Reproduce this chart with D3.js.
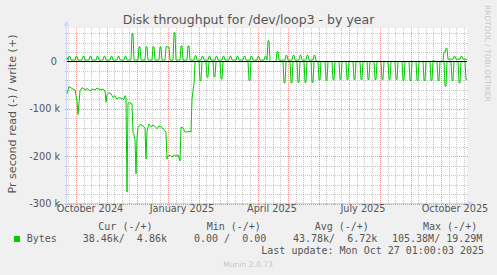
<!DOCTYPE html>
<html lang="en">
<head>
<meta charset="utf-8">
<title>Disk throughput for /dev/loop3 - by year</title>
<script src="https://d3js.org/d3.v7.min.js"></script>
<style>
  body { margin: 0; background: #f0f0f0; }
  svg text { font-family: "DejaVu Sans", sans-serif; fill: #555; }
  .mono { font-family: "DejaVu Sans Mono", monospace !important; font-size: 10px; white-space: pre; }
  .grid-minor { stroke: rgba(143,143,143,0.5); stroke-dasharray: 1,1; shape-rendering: crispEdges; }
  .grid-major { stroke: rgba(233,0,0,0.4); stroke-dasharray: 1,1; shape-rendering: crispEdges; }
</style>
</head>
<body>
<svg width="497" height="275"></svg>
<script>
  // --- data (k bytes / s, day = days since the graph start) ---
  var endTime = new Date(2025, 9, 27, 1, 0, 3);
  var spanDays = 400;

  // read (-): slowly varying part, then zero
  var readProfile = [
    [0,-68],[2,-53],[5,-57],[8,-60],[10,-84],[11,-112],[13,-62],[15,-55],[18,-60],[20,-57],
    [23,-62],[26,-58],[28,-60],[30,-56],[33,-60],[36,-58],[38,-62],[39,-86],[40,-70],[42,-66],
    [44,-68],[46,-76],[48,-72],[50,-80],[52,-76],[55,-78],[57,-80],[58,-72],[59,-76],[60,-276],
    [61,-88],[63,-86],[64,-90],[65,-89],[66,-150],[67,-155],[68,-165],[69,-237],[70,-160],[71,-140],
    [73,-133],[76,-136],[78,-140],[79,-206],[80,-148],[82,-132],[84,-138],[86,-134],[88,-137],[90,-142],
    [92,-136],[94,-138],[96,-142],[98,-146],[99,-150],[100,-206],[101,-200],[103,-198],[105,-202],[107,-197],
    [109,-200],[111,-197],[113,-210],[114,-139],[116,-140],[118,-149],[123,-148],[124,-149],[125,-80],[126,-62],
    [127,-48],[128,0],[400,0]
  ];
  // read (-): weekly dips (two days each)
  var readDips = [
    [133,-40],[140,-33],[147,-32],[154,-37],[182,-40],[217,-45],[224,-45],[231,-44],[238,-44],[245,-44],
    [252,-39],[259,-40],[266,-38],[273,-38],[280,-38],[287,-38],[294,-38],[301,-38],[308,-38],[315,-38],
    [322,-38],[329,-38],[336,-40],[343,-40],[350,-40],[357,-40],[364,-40],[371,-40],[378,-52],[385,-40],
    [392,-45],[399,-38]
  ];

  // write (+): baseline, then weekly bumps and spikes (two days each)
  var writeProfile = [
    [0,9],[1,3],[200,3],[202,0],[209,0],[212,3],[248,3],[250,0],[375,0],[382,5],[400,5]
  ];
  var writeSpikes = [
    [2,11],[9,11],[16,11],[23,11],[30,11],[37,11],[44,11],[51,11],[58,11],[65,59],
    [72,31],[79,31],[86,31],[93,31],[99,31],[101,31],[107,61],[114,33],[121,33],[128,12],
    [135,11],[142,11],[149,11],[156,11],[163,11],[170,11],[177,11],[184,11],[191,11],[198,11],
    [201,44],[210,21],[219,13],[226,13],[233,13],[240,13],[247,13],[366,2],[377,20],[379,28],
    [387,11],[394,11]
  ];

  var yTicks = [-300000, -200000, -100000, 0];
  var yTickLabels = ["-300 k", "-200 k", "-100 k", "0 "];

  var legendHeads = ["Cur (-/+)", "Min (-/+)", "Avg (-/+)", "Max (-/+)"];
  var legendVals = ["38.46k/  4.86k", "0.00 /  0.00", "43.78k/  6.72k", "105.38M/ 19.29M"];
  var lastUpdate = "Last update: Mon Oct 27 01:00:03 2025";

  // --- setup ---
  var svg = d3.select("svg");
  var plotLeft = 67, plotRight = 467, plotTop = 28.4, plotBottom = 203.5;
  var startTime = new Date(+endTime - spanDays * 864e5);

  var x = d3.scaleTime().domain([startTime, endTime]).range([plotLeft, plotRight]);
  var y = d3.scaleLinear().domain([-300000, 70000]).range([plotBottom, plotTop]);

  function dayDate(d) { return new Date(+startTime + d * 864e5); }

  function valueAt(profile, d) {
    for (var i = 1; i < profile.length; i++) {
      if (d <= profile[i][0]) {
        var a = profile[i - 1], b = profile[i];
        return a[1] + (b[1] - a[1]) * (d - a[0]) / (b[0] - a[0]);
      }
    }
    return profile[profile.length - 1][1];
  }

  function series(profile, spikes) {
    var vals = [];
    for (var d = 0; d <= spanDays; d++) vals.push(valueAt(profile, d));
    spikes.forEach(function (s) {
      vals[s[0]] = s[1];
      if (s[0] + 1 <= spanDays) vals[s[0] + 1] = s[1];
    });
    return vals.map(function (v, d) { return { day: d, v: v * 1000 }; });
  }

  // canvas
  svg.append("rect").attr("width", 497).attr("height", 275).attr("fill", "#f0f0f0");
  svg.append("rect").attr("x", plotLeft).attr("y", 28).attr("width", plotRight - plotLeft).attr("height", 176).attr("fill", "#fff");

  // grid: horizontal
  var hMinor = d3.range(-280000, 70000, 20000).filter(function (v) { return v % 100000 !== 0; });
  svg.append("g").selectAll("line").data(hMinor).enter().append("line")
    .attr("class", "grid-minor")
    .attr("x1", plotLeft - 2).attr("x2", plotRight + 2)
    .attr("y1", function (d) { return Math.round(y(d)) + 0.5; })
    .attr("y2", function (d) { return Math.round(y(d)) + 0.5; });
  svg.append("g").selectAll("line").data(yTicks.slice(0, 3)).enter().append("line")
    .attr("class", "grid-major")
    .attr("x1", plotLeft - 2).attr("x2", plotRight + 2)
    .attr("y1", function (d) { return Math.round(y(d)) + 0.5; })
    .attr("y2", function (d) { return Math.round(y(d)) + 0.5; });

  // grid: vertical (months red, quarter months grey)
  var months = d3.timeMonth.range(d3.timeMonth.floor(startTime), endTime);
  var quarterMarks = [];
  months.forEach(function (m) {
    var next = d3.timeMonth.offset(m, 1);
    for (var k = 1; k < 4; k++) {
      var t = new Date(+m + k * (next - m) / 4);
      if (t > startTime && t < endTime) quarterMarks.push(t);
    }
  });
  var monthMarks = months.filter(function (m) { return m > startTime; });

  svg.append("g").selectAll("line").data(quarterMarks).enter().append("line")
    .attr("class", "grid-minor")
    .attr("y1", 28).attr("y2", plotBottom + 2)
    .attr("x1", function (d) { return Math.round(x(d)) + 0.5; })
    .attr("x2", function (d) { return Math.round(x(d)) + 0.5; });
  svg.append("g").selectAll("line").data(monthMarks).enter().append("line")
    .attr("class", "grid-major")
    .attr("y1", 28).attr("y2", plotBottom + 2)
    .attr("x1", function (d) { return Math.round(x(d)) + 0.5; })
    .attr("x2", function (d) { return Math.round(x(d)) + 0.5; });

  // axes lines + arrows
  var axisCol = "#cfd6f8";
  svg.append("line").attr("x1", plotLeft - 3).attr("x2", plotRight + 2).attr("y1", 203.5).attr("y2", 203.5)
    .attr("stroke", axisCol);
  svg.append("line").attr("x1", plotLeft - 0.5).attr("x2", plotLeft - 0.5).attr("y1", plotBottom + 3).attr("y2", 24)
    .attr("stroke", axisCol);
  svg.append("path").attr("d", "M468,200.5L468,206.5L474,203.5Z").attr("fill", axisCol);
  svg.append("path").attr("d", "M63.5,26L69.5,26L66.5,20.5Z").attr("fill", axisCol);

  // data lines
  var line = d3.line()
    .x(function (d) { return x(dayDate(d.day)); })
    .y(function (d) { return y(d.v); });

  svg.append("path").datum(series(readProfile, readDips))
    .attr("fill", "none").attr("stroke", "#00cc00").attr("stroke-width", 1)
    .attr("d", line);
  svg.append("path").datum(series(writeProfile, writeSpikes))
    .attr("fill", "none").attr("stroke", "#00cc00").attr("stroke-width", 1)
    .attr("d", line);

  // zero rule
  svg.append("line").attr("x1", plotLeft).attr("x2", plotRight).attr("y1", y(0)).attr("y2", y(0))
    .attr("stroke", "#000").attr("stroke-width", 1);

  // y labels
  var yAxis = d3.axisLeft(y).tickValues(yTicks)
    .tickFormat(function (d, i) { return yTickLabels[i]; })
    .tickSize(0).tickPadding(0);
  var gy = svg.append("g").attr("transform", "translate(60,0)").call(yAxis);
  gy.select(".domain").remove();
  gy.attr("font-family", null).attr("font-size", null);
  gy.selectAll("text").style("font-size", "9.7px").style("white-space", "pre");

  // x labels (centred half a month after the quarter start)
  var labelMonths = months.filter(function (m) { return m > startTime && m.getMonth() % 3 === 0; });
  var xAxis = d3.axisBottom(x)
    .tickValues(labelMonths.map(function (m) { return new Date(+m + 13.5 * 864e5); }))
    .tickFormat(function (d) { return d3.timeFormat("%B %Y")(d); })
    .tickSize(0).tickPadding(0);
  var gx = svg.append("g").attr("transform", "translate(0,205)").call(xAxis);
  gx.select(".domain").remove();
  gx.attr("font-family", null).attr("font-size", null);
  gx.selectAll("text").style("font-size", "9.7px").attr("dy", "0.72em");

  // title and unit label
  svg.append("text").attr("x", 248.5).attr("y", 23.5).attr("text-anchor", "middle")
    .style("font-size", "12.5px").text("Disk throughput for /dev/loop3 - by year");
  svg.append("text").attr("transform", "translate(16,114) rotate(-90)").attr("text-anchor", "middle")
    .style("font-size", "11.1px").text("Pr second read (-) / write (+)");

  // watermark
  svg.append("text").attr("transform", "translate(485,5) rotate(90)")
    .style("font-size", "7.5px").style("fill", "#c8c8c8").text("RRDTOOL / TOBI OETIKER");

  // legend
  var headX = [98.3, 206.7, 314.7, 423];
  var valX = [82.7, 194, 293, 392];
  svg.append("g").selectAll("text").data(legendHeads).enter().append("text")
    .attr("class", "mono").attr("x", function (d, i) { return headX[i]; }).attr("y", 230)
    .text(function (d) { return d; });
  svg.append("rect").attr("x", 14).attr("y", 236).attr("width", 6).attr("height", 6).attr("fill", "#00cc00");
  svg.append("text").attr("class", "mono").attr("x", 26.7).attr("y", 242).text("Bytes");
  svg.append("g").selectAll("text").data(legendVals).enter().append("text")
    .attr("class", "mono").attr("x", function (d, i) { return valX[i]; }).attr("y", 242)
    .text(function (d) { return d; });
  svg.append("text").attr("class", "mono").attr("x", 261.3).attr("y", 254).text(lastUpdate);
  svg.append("text").attr("x", 248).attr("y", 266.5).attr("text-anchor", "middle")
    .style("font-size", "7.6px").style("fill", "#c8c8c8").text("Munin 2.0.73");
</script>
</body>
</html>
